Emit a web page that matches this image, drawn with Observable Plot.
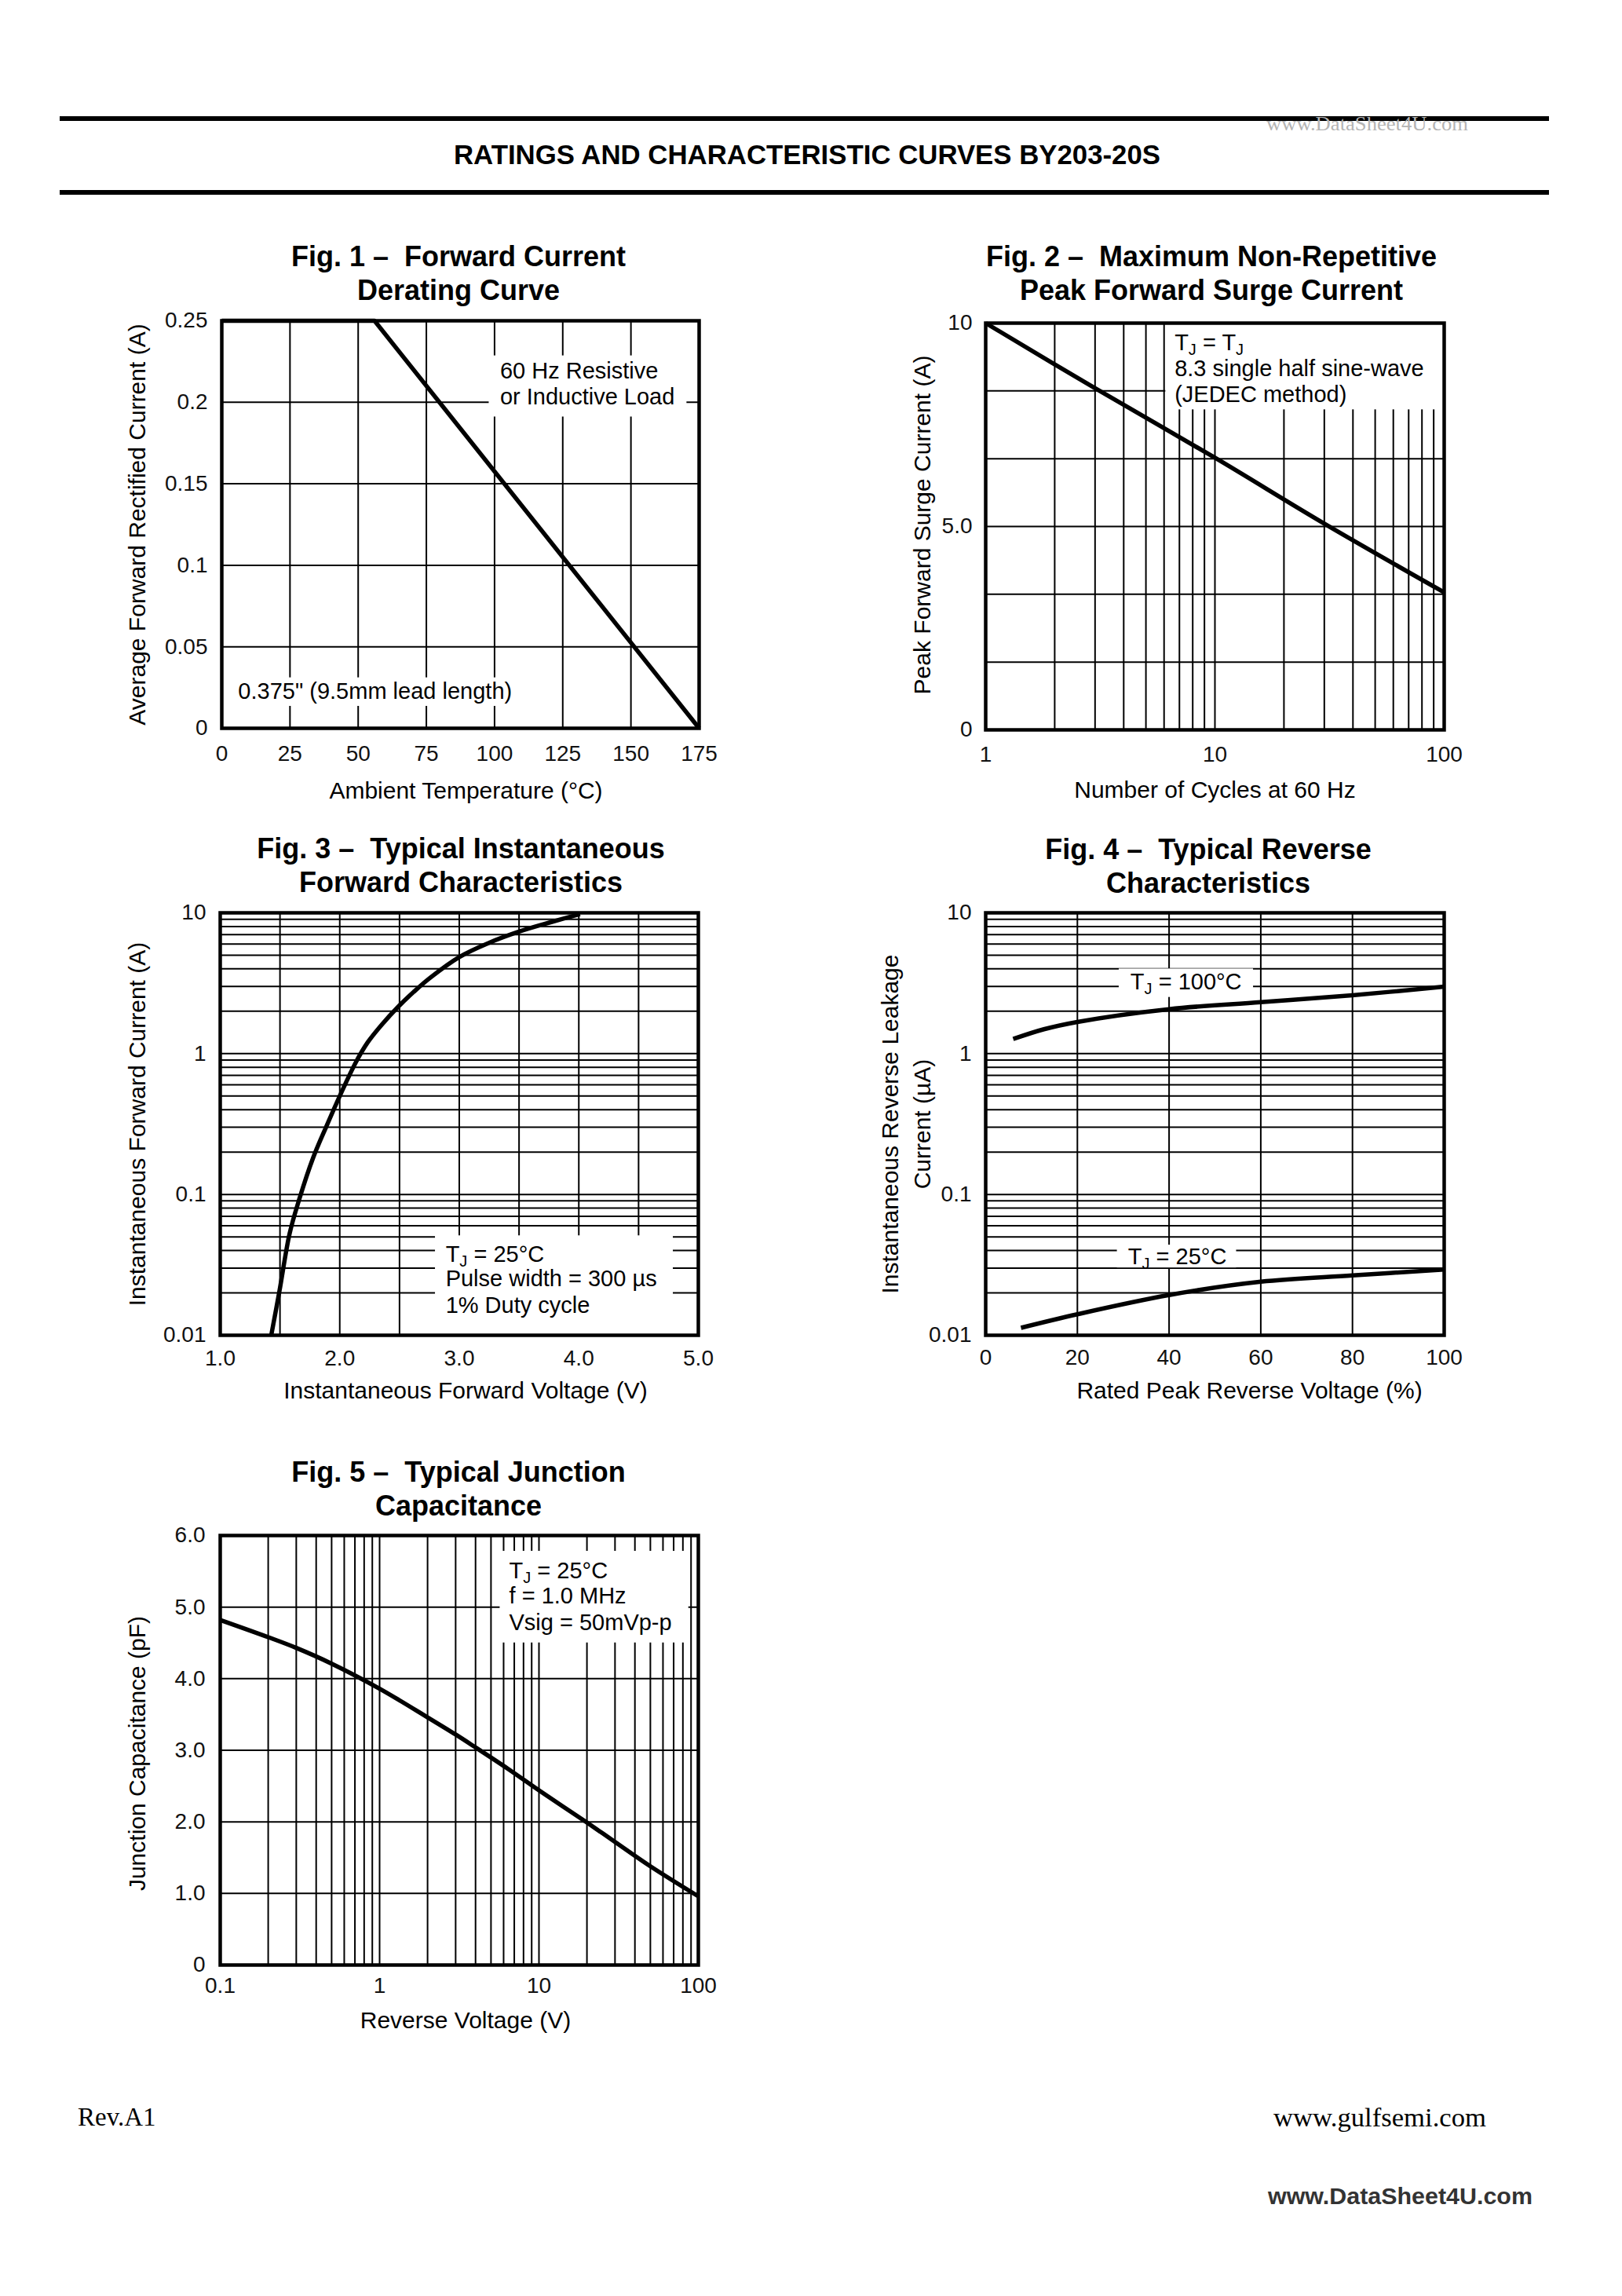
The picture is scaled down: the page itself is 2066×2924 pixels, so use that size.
<!DOCTYPE html>
<html>
<head>
<meta charset="utf-8">
<script src="https://cdn.jsdelivr.net/npm/d3@7"></script>
<script src="https://cdn.jsdelivr.net/npm/@observablehq/plot@0.6"></script>
<style>
  html, body { margin: 0; padding: 0; background: #fff; }
  #page { position: relative; width: 2066px; height: 2924px; background: #fff; overflow: hidden;
          font-family: "Liberation Sans", Arial, Helvetica, sans-serif; color: #000; }
  .rule { position: absolute; left: 76px; width: 1897px; height: 6px; background: #000; }
  .txt { position: absolute; white-space: pre; line-height: 1.15; }
  .figtitle { position: absolute; font-weight: bold; font-size: 36px; line-height: 43px; text-align: center;
              white-space: pre; transform: translateX(-50%); }
</style>
</head>
<body>
<div id="page"></div>
<script>
// ================= DATA =================
// Fig. 1 – Forward Current Derating Curve
const fig1Temperature = [0, 56, 175];
const fig1Current = [0.25, 0.25, 0];
const fig1XTicks = [0, 25, 50, 75, 100, 125, 150, 175];
const fig1XTickLabels = ["0", "25", "50", "75", "100", "125", "150", "175"];
const fig1YTicks = [0, 0.05, 0.1, 0.15, 0.2, 0.25];
const fig1YTickLabels = ["0", "0.05", "0.1", "0.15", "0.2", "0.25"];
const fig1XGrid = [25, 50, 75, 100, 125, 150];
const fig1YGrid = [0.05, 0.1, 0.15, 0.2];
const fig1Notes = [
  {x: 102, y: 0.219, text: "60 Hz Resistive"},
  {x: 102, y: 0.203, text: "or Inductive Load"},
  {x: 6, y: 0.0226, text: "0.375\" (9.5mm lead length)"}
];
const fig1Boxes = [
  {x1: 98, x2: 170.5, y1: 0.191, y2: 0.2285},
  {x1: 3, x2: 110, y1: 0.0135, y2: 0.031}
];

// Fig. 2 – Maximum Non-Repetitive Peak Forward Surge Current
const fig2Cycles = [1, 3, 10, 30, 100];
const fig2Surge = [10, 8.4, 6.69, 5.07, 3.38];
const fig2XTicks = [1, 10, 100];
const fig2XTickLabels = ["1", "10", "100"];
const fig2YTicks = [0, 5, 10];
const fig2YTickLabels = ["0", "5.0", "10"];
const fig2XGrid = [2, 3, 4, 5, 6, 7, 8, 9, 10, 20, 30, 40, 50, 60, 70, 80, 90];
const fig2YGrid = [1.667, 3.333, 5, 6.667, 8.333];
const fig2Notes = [
  {x: 6.67, y: 9.515, text: "T_J = T_J"},
  {x: 6.67, y: 8.875, text: "8.3 single half sine-wave"},
  {x: 6.67, y: 8.234, text: "(JEDEC method)"}
];
const fig2Boxes = [{x1: 6.1, x2: 100, y1: 7.87, y2: 10}];

// Fig. 3 – Typical Instantaneous Forward Characteristics
const fig3Voltage = [1.427, 1.496, 1.58, 1.66, 1.776, 1.89, 2.0, 2.135, 2.233, 2.35, 2.488, 2.62, 2.755, 3.0, 3.245, 3.5, 3.77, 4.01];
const fig3Current = [0.01, 0.0207, 0.0525, 0.0917, 0.181, 0.307, 0.5, 0.87, 1.2, 1.6, 2.15, 2.75, 3.45, 4.85, 6.1, 7.35, 8.6, 9.8];
const fig3XTicks = [1, 2, 3, 4, 5];
const fig3XTickLabels = ["1.0", "2.0", "3.0", "4.0", "5.0"];
const logYTicks = [0.01, 0.1, 1, 10];
const logYTickLabels = ["0.01", "0.1", "1", "10"];
const fig3XGrid = [1.5, 2, 2.5, 3, 3.5, 4, 4.5];
const logYGrid = [0.02, 0.03, 0.04, 0.05, 0.06, 0.07, 0.08, 0.09, 0.1,
                  0.2, 0.3, 0.4, 0.5, 0.6, 0.7, 0.8, 0.9, 1,
                  2, 3, 4, 5, 6, 7, 8, 9];
const fig3Notes = [
  {x: 2.886, y: 0.0374, text: "T_J = 25°C"},
  {x: 2.886, y: 0.0250, text: "Pulse width = 300 µs"},
  {x: 2.886, y: 0.0162, text: "1% Duty cycle"}
];
const fig3Boxes = [{x1: 2.80, x2: 4.79, y1: 0.01, y2: 0.0509}];

// Fig. 4 – Typical Reverse Characteristics
const fig4Percent100 = [6, 12.7, 20, 40, 60, 80, 100];
const fig4Leakage100 = [1.27, 1.49, 1.68, 2.07, 2.32, 2.6, 2.99];
const fig4Percent25 = [7.7, 20, 40, 60, 80, 100];
const fig4Leakage25 = [0.0113, 0.0141, 0.0193, 0.0240, 0.0266, 0.0293];
const fig4XTicks = [0, 20, 40, 60, 80, 100];
const fig4XTickLabels = ["0", "20", "40", "60", "80", "100"];
const fig4XGrid = [20, 40, 60, 80];
const fig4Notes = [
  {x: 43.7, y: 3.22, text: "T_J = 100°C"},
  {x: 41.8, y: 0.0362, text: "T_J = 25°C"}
];
const fig4Boxes = [
  {x1: 29.1, x2: 58.4, y1: 2.51, y2: 4.0},
  {x1: 28.7, x2: 54.7, y1: 0.0301, y2: 0.0437}
];

// Fig. 5 – Typical Junction Capacitance
const fig5Voltage = [0.1, 0.2, 0.3, 0.5, 1, 2, 3, 4, 6.4, 10, 20, 30, 50, 100];
const fig5Capacitance = [4.82, 4.58, 4.43, 4.21, 3.86, 3.46, 3.22, 3.04, 2.74, 2.44, 1.99, 1.72, 1.38, 0.96];
const fig5XTicks = [0.1, 1, 10, 100];
const fig5XTickLabels = ["0.1", "1", "10", "100"];
const fig5YTicks = [0, 1, 2, 3, 4, 5, 6];
const fig5YTickLabels = ["0", "1.0", "2.0", "3.0", "4.0", "5.0", "6.0"];
const fig5XGrid = [0.2, 0.3, 0.4, 0.5, 0.6, 0.7, 0.8, 0.9, 1, 2, 3, 4, 5, 6, 7, 8, 9,
                   10, 20, 30, 40, 50, 60, 70, 80, 90];
const fig5YGrid = [1, 2, 3, 4, 5];
const fig5Notes = [
  {x: 6.5, y: 5.507, text: "T_J = 25°C"},
  {x: 6.5, y: 5.15, text: "f = 1.0 MHz"},
  {x: 6.5, y: 4.78, text: "Vsig = 50mVp-p"}
];
const fig5Boxes = [{x1: 5.7, x2: 87, y1: 4.5, y2: 5.78}];

// ================= RENDER =================
const page = document.getElementById("page");
const FONT = '"Liberation Sans", Arial, Helvetica, sans-serif';
const SERIF = '"Liberation Serif", "Times New Roman", serif';
const NS = "http://www.w3.org/2000/svg";

function addDiv(cls, text, css) {
  const d = document.createElement("div");
  d.className = cls;
  d.textContent = text;
  Object.assign(d.style, css);
  page.appendChild(d);
  return d;
}
function fitWidth(el, target) {
  const w = el.getBoundingClientRect().width;
  const k = target / w;
  el.style.transformOrigin = "left center";
  el.style.transform = `translateY(-50%) scaleX(${k})`;
}

// page header
addDiv("rule", "", {top: "148px"});
addDiv("rule", "", {top: "242px"});
const head = addDiv("txt", "RATINGS AND CHARACTERISTIC CURVES BY203-20S",
  {left: "578px", top: "197px", fontWeight: "bold", fontSize: "35px"});
const wm1 = addDiv("txt", "www.DataSheet4U.com",
  {left: "1613px", top: "158px", fontFamily: SERIF, fontSize: "26px", color: "#b4b4b4"});
// footer
addDiv("txt", "Rev.A1", {left: "99px", top: "2678px", fontFamily: SERIF, fontSize: "33px"});
const gs = addDiv("txt", "www.gulfsemi.com", {left: "1622px", top: "2697px", fontFamily: SERIF, fontSize: "34px"});
const wm2 = addDiv("txt", "www.DataSheet4U.com", {left: "1615px", top: "2797px", fontWeight: "bold", fontSize: "30px", color: "#333"});

function figTitle(text, cx, cy1) {
  addDiv("figtitle", text, {left: cx + "px", top: (cy1 - 21.5) + "px"});
}
figTitle("Fig. 1 –  Forward Current\nDerating Curve", 584, 326);
figTitle("Fig. 2 –  Maximum Non-Repetitive\nPeak Forward Surge Current", 1543, 326);
figTitle("Fig. 3 –  Typical Instantaneous\nForward Characteristics", 587, 1080);
figTitle("Fig. 4 –  Typical Reverse\nCharacteristics", 1539, 1081);
figTitle("Fig. 5 –  Typical Junction\nCapacitance", 584, 1874);

function subscriptJ(svg) {
  svg.querySelectorAll("text").forEach(t => {
    if (t.children.length === 0 && t.textContent.includes("_J")) {
      const parts = t.textContent.split("_J");
      t.textContent = "";
      parts.forEach((p, i) => {
        if (i > 0) {
          const s = document.createElementNS(NS, "tspan");
          s.setAttribute("font-size", "20");
          s.setAttribute("dy", "6");
          s.textContent = "J";
          t.appendChild(s);
        }
        const s2 = document.createElementNS(NS, "tspan");
        if (i > 0) s2.setAttribute("dy", "-6");
        s2.textContent = p;
        t.appendChild(s2);
      });
    }
  });
}

function pairs(xs, ys) { return xs.map((x, i) => ({x, y: ys[i]})); }

function chart(c) {
  const PL = 240, PR = 60, PT = 30, PB = 120;
  const w = c.x1 - c.x0, h = c.y1 - c.y0;
  const marks = [
    Plot.ruleX(c.xGrid, {stroke: "#000", strokeWidth: 2}),
    Plot.ruleY(c.yGrid, {stroke: "#000", strokeWidth: 2}),
    Plot.rect(c.boxes, {x1: "x1", x2: "x2", y1: "y1", y2: "y2", fill: "#fff"}),
    ...c.series.map(s => Plot.line(pairs(s.x, s.y), {
      x: "x", y: "y", stroke: "#000", strokeWidth: 5.5, curve: s.curve || "catmull-rom",
      strokeLinejoin: "round", strokeLinecap: "butt"
    })),
    Plot.text(c.notes, {x: "x", y: "y", text: "text", textAnchor: c.noteAnchor || "start", lineAnchor: "middle", fontSize: 29, fill: "#000"}),
    Plot.frame({stroke: "#000", strokeWidth: 4.5}),
    Plot.axisX(c.xTicks, {tickSize: 0, tickPadding: c.xPad, fontSize: 28, label: null,
      tickFormat: d => c.xLabels[c.xTicks.indexOf(d)]}),
    Plot.axisY(c.yTicks, {tickSize: 0, tickPadding: c.yPad, fontSize: 28, label: null,
      tickFormat: d => c.yLabels[c.yTicks.indexOf(d)]}),
    Plot.text([c.xTitle], {frameAnchor: "bottom", text: d => d, textAnchor: "middle", lineAnchor: "middle",
      dx: c.xTitleDx, dy: c.xTitleDy, fontSize: 30, fill: "#000"}),
    ...c.yTitles.map(t => Plot.text([t.text], {frameAnchor: "left", text: d => d, rotate: -90,
      textAnchor: "middle", lineAnchor: "middle", dx: t.dx, dy: t.dy || 0, fontSize: 30, fill: "#000"}))
  ];
  const svg = Plot.plot({
    width: w + PL + PR, height: h + PT + PB,
    marginLeft: PL, marginRight: PR, marginTop: PT, marginBottom: PB,
    x: c.x, y: c.y,
    style: {fontFamily: FONT, fontSize: "28px", color: "#111", background: "transparent", overflow: "visible"},
    marks
  });
  svg.style.maxWidth = "none";
  subscriptJ(svg);
  const d = document.createElement("div");
  Object.assign(d.style, {position: "absolute", left: (c.x0 - PL) + "px", top: (c.y0 - PT) + "px", width: (w + PL + PR) + "px"});
  d.appendChild(svg);
  page.appendChild(d);
}

// Fig 1
chart({
  x0: 282, x1: 890, y0: 408, y1: 927,
  x: {type: "linear", domain: [0, 175]}, y: {type: "linear", domain: [0, 0.25]},
  xGrid: fig1XGrid, yGrid: fig1YGrid, boxes: fig1Boxes, notes: fig1Notes,
  series: [{x: fig1Temperature, y: fig1Current, curve: "linear"}],
  xTicks: fig1XTicks, xLabels: fig1XTickLabels, yTicks: fig1YTicks, yLabels: fig1YTickLabels,
  xPad: 22, yPad: 18,
  xTitle: "Ambient Temperature (°C)", xTitleDx: 7, xTitleDy: 80,
  yTitles: [{text: "Average Forward Rectified Current (A)", dx: -107}]
});

// Fig 2
chart({
  x0: 1255, x1: 1839, y0: 411, y1: 929,
  x: {type: "log", domain: [1, 100]}, y: {type: "linear", domain: [0, 10]},
  xGrid: fig2XGrid, yGrid: fig2YGrid, boxes: fig2Boxes, notes: fig2Notes,
  series: [{x: fig2Cycles, y: fig2Surge}],
  xTicks: fig2XTicks, xLabels: fig2XTickLabels, yTicks: fig2YTicks, yLabels: fig2YTickLabels,
  xPad: 21, yPad: 17,
  xTitle: "Number of Cycles at 60 Hz", xTitleDx: 0, xTitleDy: 77,
  yTitles: [{text: "Peak Forward Surge Current (A)", dx: -80, dy: -2}]
});

// Fig 3
chart({
  x0: 280, x1: 889, y0: 1162, y1: 1700,
  x: {type: "linear", domain: [1, 5]}, y: {type: "log", domain: [0.01, 10]},
  xGrid: fig3XGrid, yGrid: logYGrid, boxes: fig3Boxes, notes: fig3Notes,
  series: [{x: fig3Voltage, y: fig3Current}],
  xTicks: fig3XTicks, xLabels: fig3XTickLabels, yTicks: logYTicks, yLabels: logYTickLabels,
  xPad: 19, yPad: 18,
  xTitle: "Instantaneous Forward Voltage (V)", xTitleDx: 8, xTitleDy: 71,
  yTitles: [{text: "Instantaneous Forward Current (A)", dx: -105}]
});

// Fig 4
chart({
  x0: 1255, x1: 1839, y0: 1162, y1: 1700,
  x: {type: "linear", domain: [0, 100]}, y: {type: "log", domain: [0.01, 10]},
  xGrid: fig4XGrid, yGrid: logYGrid, boxes: fig4Boxes, notes: fig4Notes, noteAnchor: "middle",
  series: [{x: fig4Percent100, y: fig4Leakage100}, {x: fig4Percent25, y: fig4Leakage25}],
  xTicks: fig4XTicks, xLabels: fig4XTickLabels, yTicks: logYTicks, yLabels: logYTickLabels,
  xPad: 18, yPad: 18,
  xTitle: "Rated Peak Reverse Voltage (%)", xTitleDx: 44, xTitleDy: 71,
  yTitles: [{text: "Instantaneous Reverse Leakage", dx: -121}, {text: "Current (µA)", dx: -80}]
});

// Fig 5
chart({
  x0: 280, x1: 889, y0: 1955, y1: 2502,
  x: {type: "log", domain: [0.1, 100]}, y: {type: "linear", domain: [0, 6]},
  xGrid: fig5XGrid, yGrid: fig5YGrid, boxes: fig5Boxes, notes: fig5Notes,
  series: [{x: fig5Voltage, y: fig5Capacitance}],
  xTicks: fig5XTicks, xLabels: fig5XTickLabels, yTicks: fig5YTicks, yLabels: fig5YTickLabels,
  xPad: 16, yPad: 19,
  xTitle: "Reverse Voltage (V)", xTitleDx: 8, xTitleDy: 71,
  yTitles: [{text: "Junction Capacitance (pF)", dx: -105, dy: 4}]
});

// width fitting for condensed page texts
fitWidth(head, 900);
fitWidth(wm1, 257);
fitWidth(wm2, 337);
fitWidth(gs, 271);
</script>
</body>
</html>
